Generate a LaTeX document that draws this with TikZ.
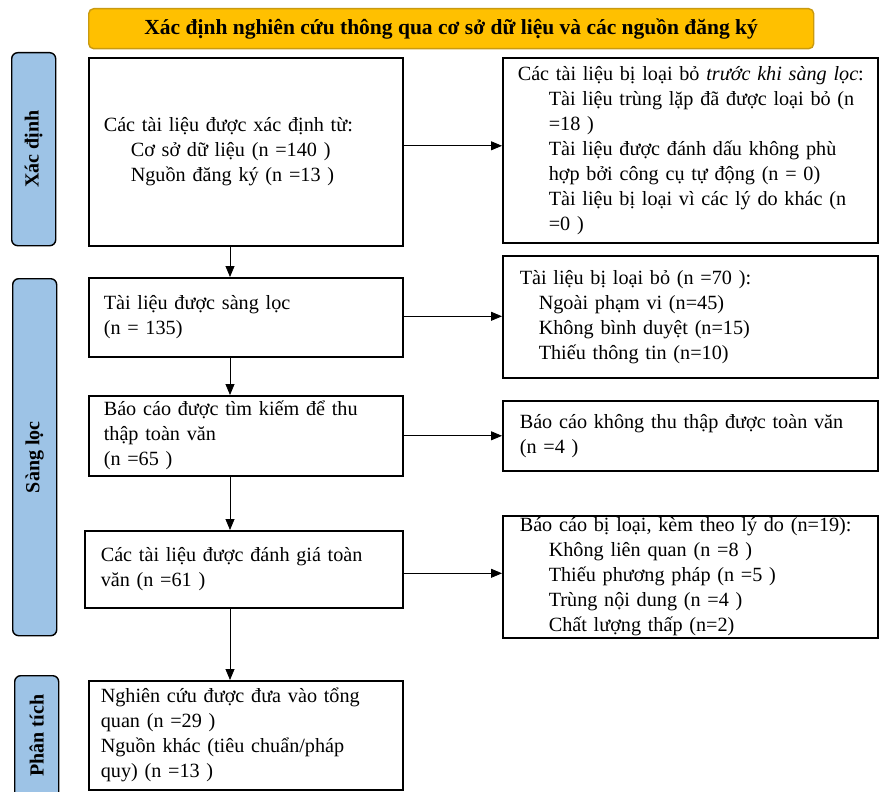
\documentclass[tikz,border=0pt]{standalone}
\usepackage{fontspec}
\setmainfont{Liberation Serif}
\usetikzlibrary{arrows.meta,positioning}
\definecolor{headfill}{HTML}{FFC000}
\definecolor{headdraw}{HTML}{C99A10}
\definecolor{sidefill}{HTML}{9DC3E6}

\begin{document}
\begin{tikzpicture}[
    x=1pt, y=-1pt,
    every node/.style={font=\fontsize{20.2}{25}\selectfont},
    flowbox/.style={
      rectangle, draw, line width=1.6pt, anchor=north west,
      align=left, inner xsep=15pt, inner ysep=0pt
    },
    headbox/.style={
      rectangle, rounded corners=5pt, draw=headdraw, line width=1.4pt,
      fill=headfill, anchor=north west, minimum width=725pt,
      minimum height=40pt, font=\fontsize{21.5}{24}\selectfont\bfseries
    },
    phasebox/.style={
      rectangle, rounded corners=6pt, draw, line width=1.4pt,
      fill=sidefill, anchor=north west, minimum width=44pt, inner sep=0pt
    },
    phasetext/.style={rotate=90, font=\fontsize{20}{22}\selectfont\bfseries},
    flowarr/.style={-{Triangle[length=11pt, width=9pt]}, line width=0.8pt}
  ]
    \useasboundingbox (0,0) rectangle (881,792);

    % Header
    \node[headbox] (head) at (88,8)
      {Xác định nghiên cứu thông qua cơ sở dữ liệu và các nguồn đăng ký};

    % Phase labels
    \node[phasebox, minimum height=193pt] (pidf) at (11,52) {};
    \node[phasetext] (pidftxt) at (pidf.center) {Xác định};
    \node[phasebox, minimum height=357pt] (pscr) at (12,278) {};
    \node[phasetext] (pscrtxt) at (pscr.center) {Sàng lọc};
    \node[phasebox, minimum height=140pt] (pinc) at (14,675) {};
    \node[phasetext] (pinctxt) at ([yshift=10pt]pinc.center) {Phân tích};

    % Main column
    \node[flowbox, text width=284pt, minimum height=188pt] (ident) at (88,57) {%
      Các tài liệu được xác định từ:\\
      \hspace*{27pt}Cơ sở dữ liệu (n =140 )\\
      \hspace*{27pt}Nguồn đăng ký (n =13 )};
    \node[flowbox, text width=284pt, minimum height=79pt] (scrn) at (88,277) {%
      Tài liệu được sàng lọc\\
      (n = 135)};
    \node[flowbox, text width=284pt, minimum height=80pt] (sought) at (88,395) {%
      Báo cáo được tìm kiếm để thu\\
      thập toàn văn\\
      (n =65 )};
    \node[flowbox, text width=286pt, inner xsep=16pt, minimum height=77pt] (elig) at (84,530) {%
      Các tài liệu được đánh giá toàn\\
      văn (n =61 )};
    \node[flowbox, text width=290pt, inner xsep=12pt, minimum height=109pt] (incl) at (88,680) {%
      Nghiên cứu được đưa vào tổng\\
      quan (n =29 )\\
      Nguồn khác (tiêu chuẩn/pháp\\
      quy) (n =13 )};

    % Exclusion column
    \node[flowbox, text width=345pt, minimum height=185pt] (prerm) at (502,57) {%
      \mbox{Các tài liệu bị loại bỏ \textit{trước khi sàng lọc}:}\\
      \hspace*{31pt}Tài liệu trùng lặp đã được loại bỏ (n\\
      \hspace*{31pt}=18 )\\
      \hspace*{31pt}Tài liệu được đánh dấu không phù\\
      \hspace*{31pt}hợp bởi công cụ tự động (n = 0)\\
      \hspace*{31pt}Tài liệu bị loại vì các lý do khác (n\\
      \hspace*{31pt}=0 )};
    \node[flowbox, text width=341pt, inner xsep=17pt, minimum height=122pt] (scrx) at (502,255) {%
      Tài liệu bị loại bỏ (n =70 ):\\
      \hspace*{19pt}Ngoài phạm vi (n=45)\\
      \hspace*{19pt}Không bình duyệt (n=15)\\
      \hspace*{19pt}Thiếu thông tin (n=10)};
    \node[flowbox, text width=341pt, inner xsep=17pt, minimum height=70pt] (notret) at (502,400) {%
      Báo cáo không thu thập được toàn văn\\
      (n =4 )};
    \node[flowbox, text width=341pt, inner xsep=17pt, minimum height=122pt] (eligx) at (502,515) {%
      \mbox{Báo cáo bị loại, kèm theo lý do (n=19):}\\
      \hspace*{29pt}Không liên quan (n =8 )\\
      \hspace*{29pt}Thiếu phương pháp (n =5 )\\
      \hspace*{29pt}Trùng nội dung (n =4 )\\
      \hspace*{29pt}Chất lượng thấp (n=2)};

    % Vertical arrows
    \coordinate (spine) at (230,0);
    \draw[flowarr] (ident.south -| spine) -- (scrn.north -| spine);
    \draw[flowarr] (scrn.south -| spine) -- (sought.north -| spine);
    \draw[flowarr] (sought.south -| spine) -- (elig.north -| spine);
    \draw[flowarr] (elig.south -| spine) -- (incl.north -| spine);

    % Horizontal arrows
    \draw[flowarr] ([yshift=6pt]ident.east) -- ([yshift=6pt]ident.east -| prerm.west);
    \draw[flowarr] ([yshift=1pt]scrn.east) -- ([yshift=1pt]scrn.east -| scrx.west);
    \draw[flowarr] ([yshift=0pt]sought.east) -- ([yshift=0pt]sought.east -| notret.west);
    \draw[flowarr] ([yshift=-4pt]elig.east) -- ([yshift=-4pt]elig.east -| eligx.west);
  \end{tikzpicture}
\end{document}
